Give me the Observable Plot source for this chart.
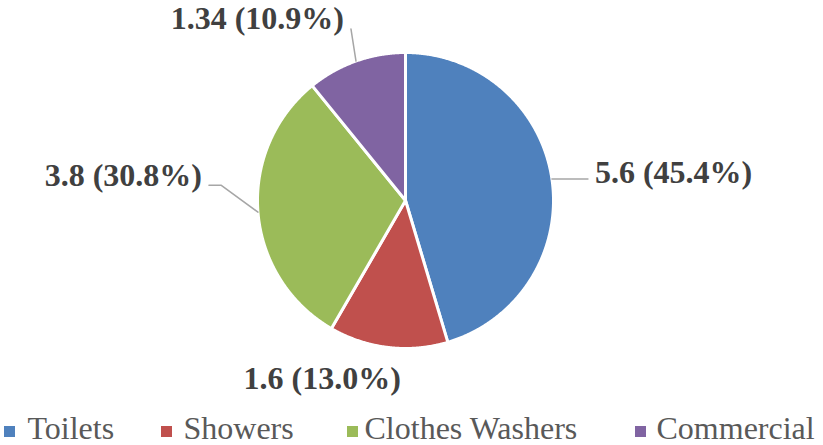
<!DOCTYPE html>
<html>
<head>
<meta charset="utf-8">
<script src="https://cdn.jsdelivr.net/npm/d3@7"></script>
<script src="https://cdn.jsdelivr.net/npm/@observablehq/plot@0.6"></script>
<style>
  html, body { margin: 0; padding: 0; background: #fff; }
  #chart svg { display: block; }
</style>
</head>
<body>
<div id="chart"></div>
<script>
// ---- data ----
const categories = ["Toilets", "Showers", "Clothes Washers", "Commercial"];
const values = [5.6, 1.6, 3.8, 1.34];
const percentLabels = ["45.4%", "13.0%", "30.8%", "10.9%"];
const colors = ["#4F81BD", "#C0504D", "#9BBB59", "#8064A2"];

// ---- layout ----
const W = 823, H = 445;
const cx = 405, cy = 200, R = 148;
// label offsets relative to slice anchor point (outer edge at mid-angle)
const labelLayout = [
  {dx: 43, dy: -6, anchor: "start", leader: [[36, 0]]},
  {dx: -66, dy: 31, anchor: "middle", leader: []},
  {dx: -56, dy: -36, anchor: "end", leader: [[-37, -27], [-49, -27]]},
  {dx: -12, dy: -42, anchor: "end", leader: [[-5, -32]]}
];
const legendSquareX = [9, 166, 352, 640];
const legendTextX = [27, 183, 364, 656];

const pie = d3.pie().sort(null).value(d => d)(values);
const polar = (a, r) => [cx + r * Math.sin(a), cy - r * Math.cos(a)];

const marks = [];
pie.forEach((p, i) => {
  const pts = [{x: cx, y: cy}];
  const n = Math.max(2, Math.ceil((p.endAngle - p.startAngle) / 0.005));
  for (let k = 0; k <= n; k++) {
    const a = p.startAngle + (p.endAngle - p.startAngle) * k / n;
    const [x, y] = polar(a, R);
    pts.push({x, y});
  }
  marks.push(Plot.line(pts, {x: "x", y: "y", fill: colors[i], stroke: "white", strokeWidth: 3, curve: "linear-closed", strokeLinejoin: "round"}));
});

const labels = [];
const leaders = [];
pie.forEach((p, i) => {
  const mid = (p.startAngle + p.endAngle) / 2;
  const [ax, ay] = polar(mid, R);
  const L = labelLayout[i];
  labels.push({
    x: ax + L.dx, y: ay + L.dy, anchor: L.anchor,
    text: `${values[i]} (${percentLabels[i]})`
  });
  if (L.leader.length) {
    const pts = [{x: ax, y: ay, k: i}].concat(L.leader.map(([dx, dy]) => ({x: ax + dx, y: ay + dy, k: i})));
    leaders.push(...pts);
  }
});

marks.push(Plot.line(leaders, {x: "x", y: "y", z: "k", stroke: "#A6A6A6", strokeWidth: 1.5}));
["start", "middle", "end"].forEach(anc => {
  marks.push(Plot.text(labels.filter(d => d.anchor === anc), {
    x: "x", y: "y", text: "text", textAnchor: anc,
    fill: "#404040", fontSize: 32, fontWeight: "bold",
    fontFamily: "Liberation Serif, DejaVu Serif, serif"
  }));
});

// legend
const legend = categories.map((c, i) => ({c, i, sx: legendSquareX[i], tx: legendTextX[i], y: 431}));
marks.push(Plot.dot(legend, {x: "sx", y: "y", symbol: "square", r: 6.2, fill: (d) => colors[d.i], stroke: null}));
marks.push(Plot.text(legend, {x: "tx", y: 428, text: "c", textAnchor: "start", fill: "#595959", fontSize: 32, fontFamily: "Liberation Serif, DejaVu Serif, serif"}));

const chart = Plot.plot({
  width: W, height: H,
  margin: 0,
  x: {type: "linear", domain: [0, W], range: [0, W], axis: null},
  y: {type: "linear", domain: [0, H], range: [0, H], axis: null},
  color: {type: "identity"},
  style: {background: "white", overflow: "visible"},
  marks
});
document.getElementById("chart").appendChild(chart);
</script>
</body>
</html>
